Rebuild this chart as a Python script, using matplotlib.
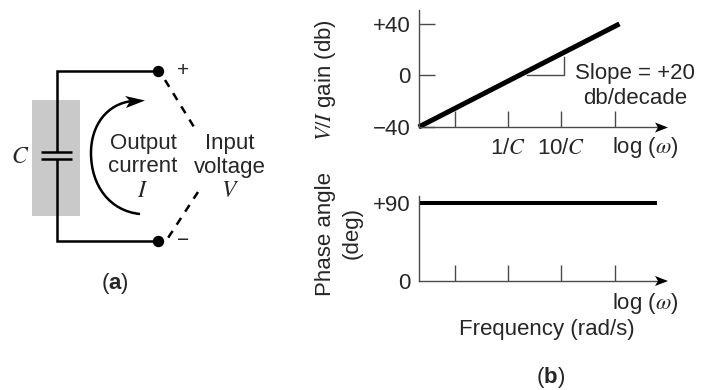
import matplotlib
matplotlib.use("Agg")
import matplotlib.pyplot as plt
from matplotlib.path import Path
from matplotlib.patches import PathPatch, Polygon, Rectangle

plt.rcParams['font.family'] = ['Liberation Sans', 'DejaVu Sans']
plt.rcParams['mathtext.fontset'] = 'custom'
plt.rcParams['mathtext.rm'] = 'STIXGeneral'
plt.rcParams['mathtext.it'] = 'STIXGeneral:italic'
plt.rcParams['mathtext.bf'] = 'Liberation Sans:bold'

W, H, DPI = 706, 390, 100
INK = '#262626'
AXC = '#4a4a4a'
FS = 16

# data
freq_ticks = [-1, 0, 1, 2]
freq_labels = ['', r'1/$C$', r'10/$C$', '']
gain_freq = [-1.675, 2.09]
gain_db = [-40, 40]
gain_ticks = [-40, 0, 40]
gain_labels = ['\u221240', '0', '+40']
phase_freq = [-1.675, 2.8]
phase_deg = [90, 90]
phase_ticks = [0, 90]
phase_labels = ['0', '+90']
slope_x = [0.36, 1.05, 1.05]
slope_y = [0, 0, 14]

fig = plt.figure(figsize=(W / DPI, H / DPI), dpi=DPI)


def px_axes(x0, x1, ytop, ybot):
    return fig.add_axes([x0 / W, 1 - ybot / H, (x1 - x0) / W, (ybot - ytop) / H])


def to_x(px):
    return (px - 508) / 53.33


def style(ax, xlim, ylim):
    ax.set_xlim(*xlim)
    ax.set_ylim(*ylim)
    ax.patch.set_alpha(0)
    for s in ('top', 'right'):
        ax.spines[s].set_visible(False)
    for s in ('left', 'bottom'):
        ax.spines[s].set_color(AXC)
        ax.spines[s].set_linewidth(1.0)


# Gain panel: pixel y = 75.5 - 1.29 * dB
ax1 = px_axes(419, 664, 10, 127)
style(ax1, (to_x(419), to_x(664)), (-40, (75.5 - 10) / 1.29))
ax1.plot(gain_freq, gain_db, color='black', lw=3.6, solid_capstyle='butt', clip_on=False)
ax1.plot(slope_x, slope_y, color=AXC, lw=1.0)
ax1.set_xticks(freq_ticks, freq_labels, fontsize=FS, color=INK)
ax1.set_yticks(gain_ticks, gain_labels, fontsize=FS, color=INK)
ax1.tick_params(axis='x', direction='in', length=11.5, width=1.0, color=AXC, pad=8)
ax1.tick_params(axis='y', direction='in', length=11.5, width=1.0, color=AXC, pad=6)

# Phase panel: pixel y = 281 - 0.867 * deg
ax2 = px_axes(419, 664, 196, 281)
style(ax2, (to_x(419), to_x(664)), (0, (281 - 196) / 0.867))
ax2.plot(phase_freq, phase_deg, color='black', lw=2.9, solid_capstyle='butt')
ax2.set_xticks(freq_ticks, ['', '', '', ''])
ax2.set_yticks(phase_ticks, phase_labels, fontsize=FS, color=INK)
ax2.tick_params(axis='x', direction='in', length=11.5, width=1.0, color=AXC)
ax2.tick_params(axis='y', length=0, pad=6)

# Overlay in image pixels for the schematic and annotations
ov = fig.add_axes([0, 0, 1, 1])
ov.set_xlim(0, W)
ov.set_ylim(H, 0)
ov.axis('off')
ov.patch.set_alpha(0)
ov.set_zorder(-1)
ax_text = fig.add_axes([0, 0, 1, 1])
ax_text.set_xlim(0, W)
ax_text.set_ylim(H, 0)
ax_text.axis('off')

ov.add_patch(Rectangle((32, 100), 48, 116, fc='#c9c9c9', ec='none'))
WIRE = dict(color='black', lw=1.8, solid_capstyle='butt', solid_joinstyle='miter')
ov.plot([158, 57, 57], [71, 71, 152], **WIRE)
ov.plot([158, 57, 57], [241, 241, 159], **WIRE)
ov.plot([41, 72], [152, 152], **WIRE)
ov.plot([41, 72], [159, 159], **WIRE)
ov.plot([158, 158], [71, 241], ls='none', marker='o', ms=7.2, color='black')
DASH = dict(color='black', lw=1.8, dashes=(3.2, 3.0))
ov.plot([165, 194], [80, 127], **DASH)
ov.plot([198, 168], [192, 238], **DASH)

arc = Path([(140, 214), (110, 211), (91, 186), (91, 153),
            (91, 125), (107, 104), (132, 101)],
           [Path.MOVETO, Path.CURVE4, Path.CURVE4, Path.CURVE4,
            Path.CURVE4, Path.CURVE4, Path.CURVE4])
ov.add_patch(PathPatch(arc, fc='none', ec='black', lw=1.8))
ov.add_patch(Polygon([(145, 100.5), (125, 96), (130, 101), (126, 108)], fc='black', ec='none'))

# x-axis arrowheads
for y in (127.5, 281):
    ax_text.add_patch(Polygon([(668, y), (655, y - 5), (658, y), (655, y + 5)], fc='black', ec='none'))


def T(x, y, s, **kw):
    kw.setdefault('fontsize', FS)
    kw.setdefault('color', INK)
    ax_text.text(x, y, s, ha=kw.pop('ha', 'center'), va=kw.pop('va', 'center'), **kw)


T(20, 157, r'$C$', fontsize=17)
T(143, 143, 'Output')
T(143, 167, 'current')
T(143, 191, r'$I$', fontsize=17)
T(230, 143, 'Input')
T(230, 167, 'voltage')
T(230, 191, r'$V$', fontsize=17)
T(183, 71, '+', fontsize=15)
T(183, 241, '\u2212', fontsize=15)
T(115, 283, r'($\mathbf{a}$)')
T(551, 377, r'($\mathbf{b}$)')
T(635, 74, 'Slope = +20')
T(635, 98, 'db/decade')
T(645, 148, r'log ($\omega$)')
T(645, 303, r'log ($\omega$)')
T(547, 330, 'Frequency (rad/s)')
T(325, 80, r'$V/I$ gain (db)', rotation=90)
T(325, 234, 'Phase angle', rotation=90)
T(352, 233, '(deg)', rotation=90)

fig.savefig('out.png', dpi=DPI)
